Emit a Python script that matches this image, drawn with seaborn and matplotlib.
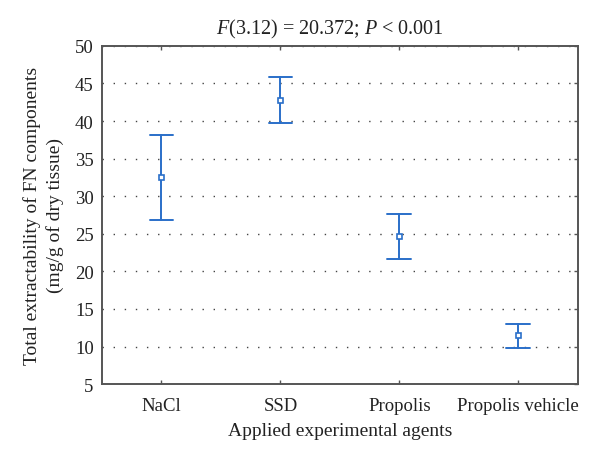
import numpy as np
import pandas as pd
import matplotlib
matplotlib.use("Agg")
import matplotlib.pyplot as plt
import seaborn as sns

agents = ["NaCl", "SSD", "Propolis", "Propolis vehicle"]
means = [32.5, 42.8, 24.7, 11.5]
lows = [26.8, 39.7, 21.6, 9.8]
highs = [38.1, 45.9, 27.6, 13.0]
yticks = [5, 10, 15, 20, 25, 30, 35, 40, 45, 50]

rows = []
for a, lo, m, hi in zip(agents, lows, means, highs):
    for v in (lo, m, hi):
        rows.append({"agent": a, "value": v})
df = pd.DataFrame(rows)

sns.set_theme(style="white")
plt.rcParams["font.family"] = ["Liberation Serif", "DejaVu Serif"]
plt.rcParams["mathtext.fontset"] = "custom"
plt.rcParams["mathtext.rm"] = "Liberation Serif"
plt.rcParams["mathtext.it"] = "Liberation Serif:italic"

fig = plt.figure(figsize=(6.0, 4.64), dpi=100)
ax = fig.add_axes([0.17, 0.170, 0.793, 0.729])

blue = "#2a6fc9"
sns.pointplot(data=df, x="agent", y="value", order=agents,
              estimator=np.median, errorbar=lambda x: (x.min(), x.max()),
              linestyle="none", markers="s", markersize=3.6, color=blue,
              capsize=0.2, err_kws={"linewidth": 1.4}, ax=ax)
for ln in ax.lines:
    if ln.get_marker() == "s":
        ln.set_markerfacecolor("white")
        ln.set_markeredgecolor(blue)
        ln.set_markeredgewidth(1.2)
        ln.set_zorder(5)

ax.set_xlim(-0.5, 3.5)
ax.set_ylim(5, 50)
ax.set_yticks(yticks)
ax.set_yticklabels([str(t) for t in yticks])
ax.yaxis.grid(True, linestyle=(0, (1, 7)), color="#444444", linewidth=1.0)
ax.xaxis.grid(False)
ax.set_axisbelow(True)

for s in ax.spines.values():
    s.set_visible(True)
    s.set_color("#555555")
    s.set_linewidth(1.4)

ax.tick_params(axis="x", direction="in", length=3, width=1, color="#555555",
               top=True, bottom=True, labelsize=13.5, pad=9, labelcolor="#222222")
ax.tick_params(axis="y", direction="in", length=3, width=1, color="#555555",
               left=False, right=True, labelsize=13.5, pad=6, labelcolor="#222222")

ax.set_xlabel("Applied experimental agents", fontsize=14, color="#222222", labelpad=6)
ax.set_ylabel("Total extractability of FN components\n(mg/g of dry tissue)",
              fontsize=14, color="#222222", labelpad=8, linespacing=1.35)
ax.set_title(r"$\mathit{F}$(3.12) = 20.372; $\mathit{P}$ < 0.001", fontsize=14.5,
             color="#222222", pad=9, x=0.48)

fig.savefig("out.png", dpi=100)
